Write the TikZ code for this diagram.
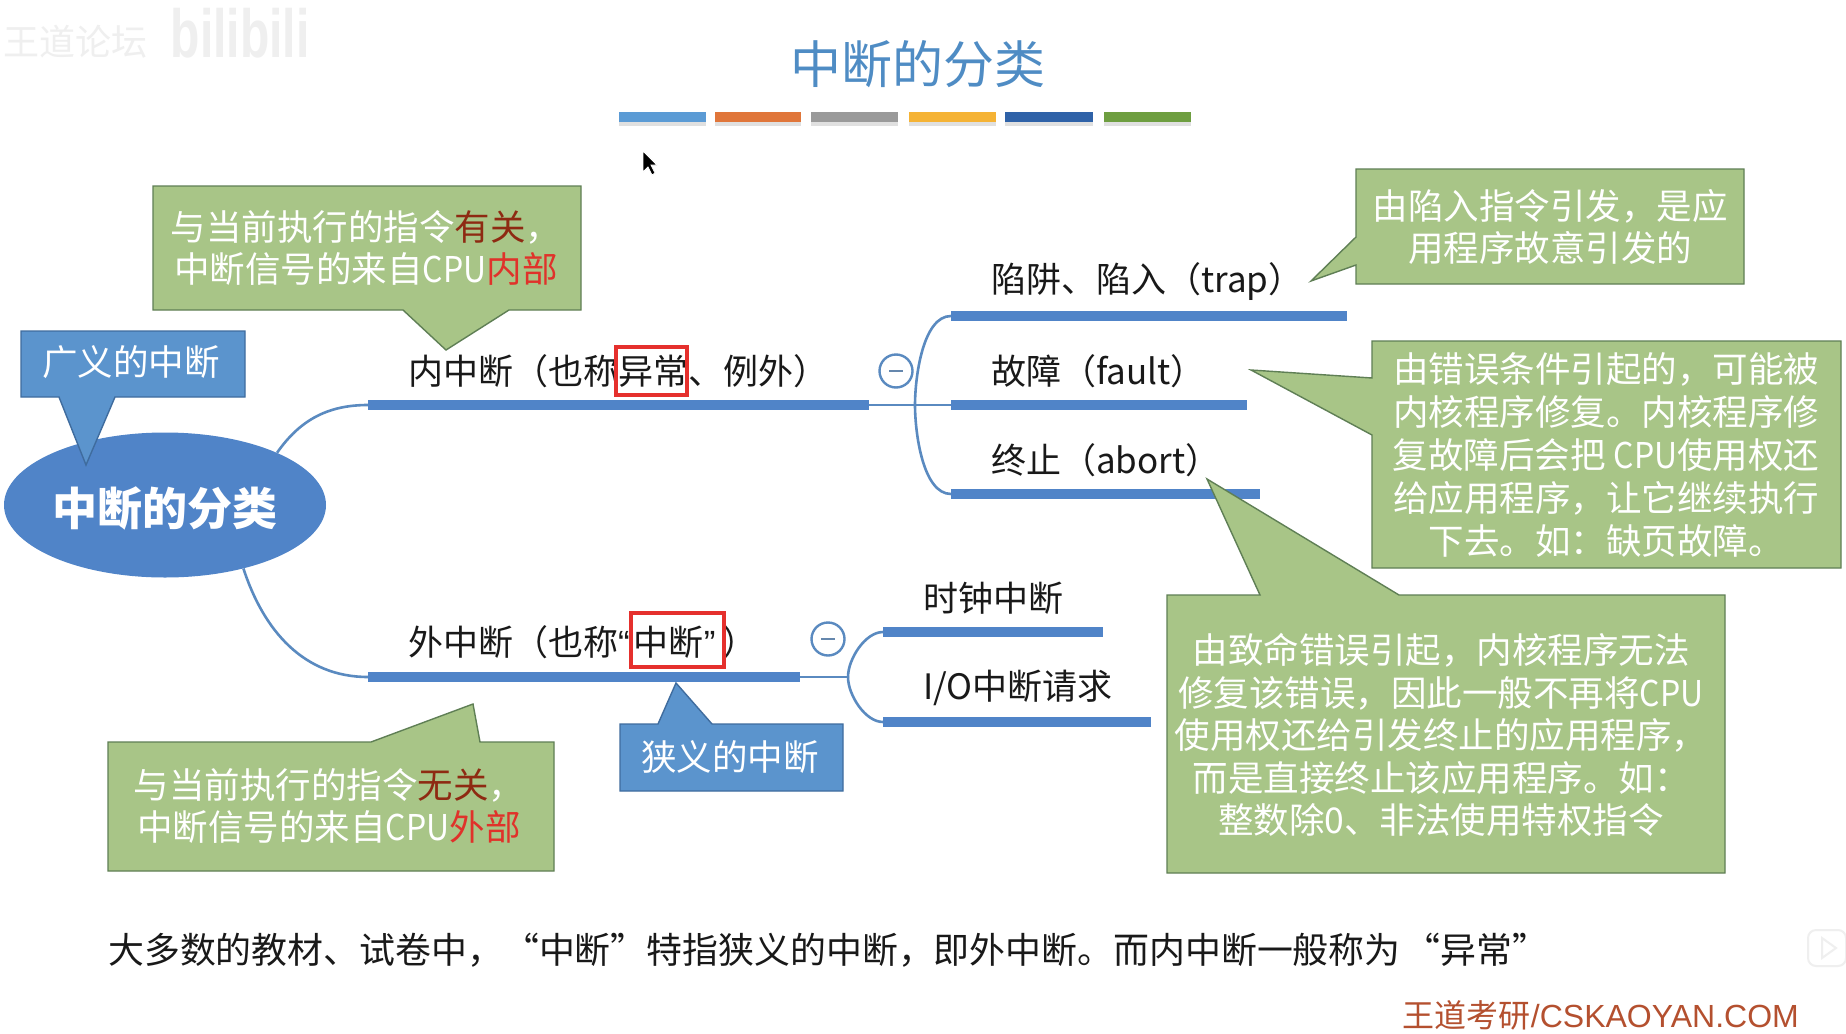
\documentclass[tikz,border=0pt]{standalone}
\usepackage{fontspec}
\setmainfont{Noto Sans CJK SC}
\newfontfamily\latinfont{Liberation Sans}
\usetikzlibrary{shapes.geometric}
\definecolor{gfill}{HTML}{A8C587}
\definecolor{gline}{HTML}{5F7F55}
\definecolor{bfill}{HTML}{5B94CD}
\definecolor{bline}{HTML}{3F6C9E}
\definecolor{mainb}{HTML}{5084C8}
\definecolor{curve}{HTML}{5A8AC0}
\definecolor{redbox}{HTML}{E5302D}
\definecolor{darkred}{HTML}{8E2A12}
\definecolor{brightred}{HTML}{E0322A}
\definecolor{titleb}{HTML}{4F8CC4}
\definecolor{wm}{HTML}{EFEFEF}
\definecolor{brand}{HTML}{B4502F}
\newcommand\cpuword{\scalebox{.9}[1]{CPU}}
\tikzset{
  txt/.style={font=\fontsize{35.5}{42}\selectfont, inner sep=0pt, align=center},
  label/.style={txt, font=\fontsize{35}{42}\selectfont, anchor=west, text=black!90},
  note/.style={txt, text=white},
  gbox/.style={fill=gfill, draw=gline, line width=1.4pt, line join=miter},
  bbox/.style={fill=bfill, draw=bline, line width=1.4pt, line join=miter},
  branch/.style={fill=mainb, inner sep=0pt, minimum height=10pt, anchor=west, rectangle},
  link/.style={draw=curve, line width=2.6pt},
  redmark/.style={draw=redbox, line width=3.6pt, inner sep=0pt, rectangle, fill=none},
  fold/.style={circle, draw=curve, line width=2.4pt, fill=white, minimum size=33pt, inner sep=0pt},
  foldbar/.style={draw=curve!70!gray, line width=2.6pt}
}
\begin{document}
\begin{tikzpicture}[x=1pt,y=-1pt]
\fill[white] (0,0) rectangle (1846,1033);
\useasboundingbox (0,0) rectangle (1846,1033);

% watermarks
\node[font=\fontsize{36}{36}\selectfont, text=wm, inner sep=0pt] (wmtext) at (75,42) {王道论坛};
\node[font=\fontsize{40}{40}\selectfont\latinfont\bfseries, text=wm, inner sep=0pt, xscale=1.2, yscale=1.7] (wmbili) at (240,33) {bilibili};
\path[fill=none, draw=wm, line width=2pt, rounded corners=8pt] (1808,930) rectangle (1846,966);
\path[draw=wm, line width=2pt, fill=none] (1822,938) -- (1836,948) -- (1822,958) -- cycle;

% title
\node[font=\fontsize{51}{51}\selectfont, text=titleb, inner sep=0pt] (title) at (918,64) {中断的分类};
\foreach \xa/\xb/\c in {619/706/5B9BD5,715/801/E0763A,811/898/9A9A9A,909/996/F5B335,1005/1093/2F62A8,1104/1191/6E9E40}{
  \fill[black!12] (\xa,122) rectangle (\xb,126);
  \definecolor{stripc}{HTML}{\c}
  \fill[stripc] (\xa,112) rectangle (\xb,122);
}
% mouse pointer
\path[fill=black, draw=white, line width=.8pt] (643,151) -- (643,172) -- (648,167) -- (652,175) -- (655,173) -- (651,165) -- (657,165) -- cycle;

% root and branch bars
\node[ellipse, fill=mainb, minimum width=322pt, minimum height=145pt, inner sep=0pt] (root) at (165,505) {};
\node[inner sep=0pt, text=white, font=\fontsize{45}{45}\selectfont\bfseries] (rootlabel) at (165,508) {中断的分类};
\node[branch, minimum width=501pt] (inner) at (368,405) {};
\node[branch, minimum width=432pt] (outer) at (368,677) {};
\node[branch, minimum width=396pt] (trapbar) at (951,316) {};
\node[branch, minimum width=296pt] (faultbar) at (951,405) {};
\node[branch, minimum width=309pt] (abortbar) at (951,494) {};
\node[branch, minimum width=220pt] (clockbar) at (883,632) {};
\node[branch, minimum width=268pt] (iobar) at (883,722) {};
\coordinate (jin) at (915,405);
\coordinate (jout) at (848,677);

% connectors
\draw[link] (root.25) to[out=55,in=180] (inner.west);
\draw[link] (root.-39) to[out=-72,in=180] (outer.west);
\draw[link] (inner.east) -- (faultbar.west);
\draw[link] (jin) to[out=90,in=180,looseness=.75] (trapbar.west);
\draw[link] (jin) to[out=-90,in=180,looseness=.75] (abortbar.west);
\draw[link] (outer.east) -- (jout);
\draw[link] (jout) to[out=90,in=180,looseness=.8] (clockbar.west);
\draw[link] (jout) to[out=-90,in=180,looseness=.8] (iobar.west);

% fold markers
\node[fold] (foldin) at (896,371) {};
\draw[foldbar] ([xshift=-7pt]foldin.center) -- ([xshift=7pt]foldin.center);
\node[fold] (foldout) at (828,639) {};
\draw[foldbar] ([xshift=-7pt]foldout.center) -- ([xshift=7pt]foldout.center);

% callouts
\draw[gbox] (153,186) -- (581,186) -- (581,310) -- (509,310) -- (446,350) -- (403,310) -- (153,310) -- cycle;
\draw[bbox] (21,331) -- (245,331) -- (245,397) -- (115,397) -- (86,465) -- (59,397) -- (21,397) -- cycle;
\draw[gbox] (108,742) -- (371,742) -- (473,704) -- (480,742) -- (554,742) -- (554,871) -- (108,871) -- cycle;
\draw[bbox] (620,724) -- (658,724) -- (676,683) -- (712,724) -- (843,724) -- (843,791) -- (620,791) -- cycle;
\draw[gbox] (1356,169) -- (1744,169) -- (1744,284) -- (1356,284) -- (1356,265) -- (1311,281) -- (1356,237) -- cycle;
\draw[gbox] (1372,341) -- (1841,341) -- (1841,568) -- (1372,568) -- (1372,435) -- (1251,370) -- (1372,378) -- cycle;
\draw[gbox] (1167,595) -- (1260,595) -- (1207,479) -- (1399,595) -- (1725,595) -- (1725,873) -- (1167,873) -- cycle;

% callout texts
\node[note] (n1) at (366,248) {与当前执行的指令{\color{darkred}有关}，\\中断信号的来自\cpuword{\color{brightred}内部}};
\node[note] (n2) at (131,362) {广义的中断};
\node[note] (n3) at (329,806) {与当前执行的指令{\color{darkred}无关}，\\中断信号的来自\cpuword{\color{brightred}外部}};
\node[note] (n4) at (730,757) {狭义的中断};
\node[note] (n5) at (1550,227) {由陷入指令引发，是应\\用程序故意引发的};
\node[note, font=\fontsize{35.5}{43}\selectfont] (n6) at (1606,455) {由错误条件引起的，可能被\\内核程序修复。内核程序修\\复故障后会把 \cpuword 使用权还\\给应用程序，让它继续执行\\下去。如：缺页故障。};
\node[note, font=\fontsize{35.5}{42.5}\selectfont] (n7) at (1441,735) {由致命错误引起，内核程序无法\\修复该错误，因此一般不再将\cpuword\\使用权还给引发终止的应用程序，\\而是直接终止该应用程序。如：\\整数除0、非法使用特权指令};

% branch labels
\node[label] (l1) at (408,371) {内中断（也称异常、例外）};
\node[label] (l2) at (408,642) {外中断（也称{\latinfont “}\kern4pt 中断{\latinfont ”}\kern7pt）};
\node[label] (l3) at (991,282) {陷阱、陷入（trap）};
\node[label] (l4) at (991,371) {故障（fault）};
\node[label] (l5) at (991,460) {终止（abort）};
\node[label] (l6) at (923,598) {时钟中断};
\node[label] (l7) at (923,688) {I/O中断请求};

% red marks
\node[redmark, minimum width=71pt, minimum height=48pt] (m1) at (651.5,371) {};
\node[redmark, minimum width=93pt, minimum height=54pt] (m2) at (677.5,640) {};

% footer
\node[txt, font=\fontsize{35.9}{42}\selectfont, anchor=west, text=black!90] (foot) at (108,950) {大多数的教材、试卷中，“中断”特指狭义的中断，即外中断。而内中断一般称为\kern4pt“异常”};
\node[inner sep=0pt, anchor=east, text=brand, font=\fontsize{32}{32}\selectfont] (brandmark) at (1799,1015) {王道考研{\latinfont /CSKAOYAN.COM}};
\end{tikzpicture}
\end{document}
